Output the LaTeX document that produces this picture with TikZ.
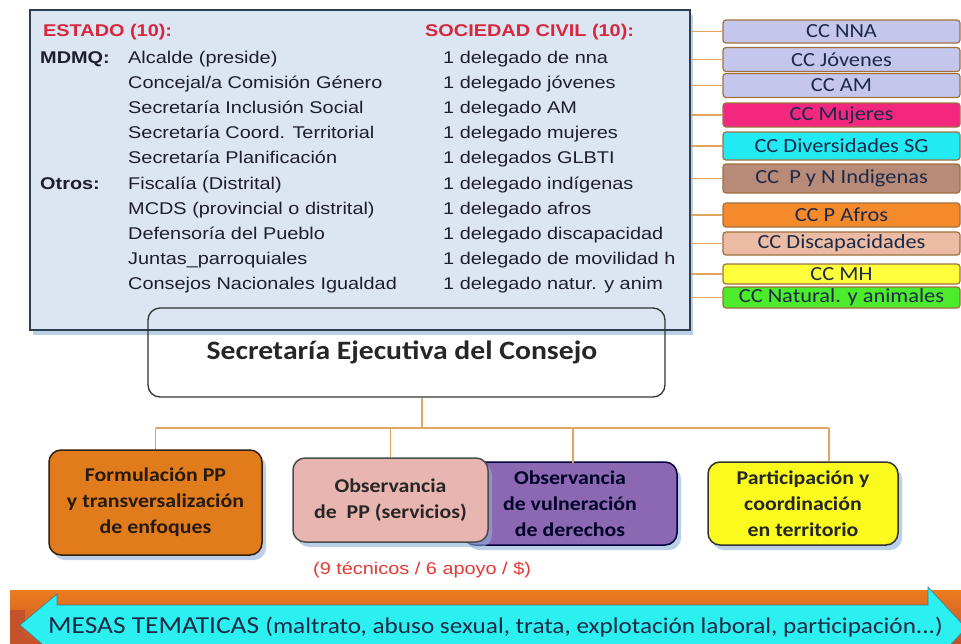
\documentclass[tikz,border=0pt]{standalone}
\usepackage{fontspec}
\usetikzlibrary{shadows}
\setmainfont{Liberation Sans}
\newfontfamily\arialw[FakeStretch=1.17]{Liberation Sans}
\newfontfamily\calib{Carlito}
\newfontfamily\calibw[FakeStretch=1.12]{Carlito}
\definecolor{mainfill}{HTML}{DCE6F2}
\definecolor{mainborder}{HTML}{2E3F52}
\definecolor{hdrred}{HTML}{D7263D}
\definecolor{txtdark}{HTML}{1E1E2E}
\definecolor{ccborder}{HTML}{A0703C}
\definecolor{cclav}{HTML}{C4C6EC}
\definecolor{ccpink}{HTML}{F2277F}
\definecolor{cccyan}{HTML}{22EAF2}
\definecolor{ccbrown}{HTML}{B88A78}
\definecolor{ccorange}{HTML}{F58A2C}
\definecolor{ccsalmon}{HTML}{EBBBA3}
\definecolor{ccyellow}{HTML}{FFFF3C}
\definecolor{ccgreen}{HTML}{4CEB2C}
\definecolor{cctext}{HTML}{1C2A48}
\definecolor{treeline}{HTML}{E2A560}
\definecolor{bonefill}{HTML}{E07C1C}
\definecolor{btwofill}{HTML}{E9B5B0}
\definecolor{bthreefill}{HTML}{8C68B2}
\definecolor{bfourfill}{HTML}{FAFA1E}
\definecolor{redtxt}{HTML}{E53935}
\definecolor{bandorange}{HTML}{EC7C1E}
\definecolor{banddark}{HTML}{C4522A}
\definecolor{arrowcyan}{HTML}{2CF0F0}
\definecolor{shadowblue}{HTML}{8FB0D8}
\begin{document}
\begin{tikzpicture}[x=1pt,y=-1pt,
  mainbox/.style={draw=mainborder, line width=1.5pt, fill=mainfill, minimum width=660pt, minimum height=320pt, inner sep=0pt,
    drop shadow={fill=shadowblue, opacity=0.6, shadow xshift=3pt, shadow yshift=-5pt}},
  lbl/.style={anchor=base west, inner sep=0pt, text=txtdark, font=\arialw\fontsize{17}{20}\selectfont},
  blbl/.style={lbl, font=\arialw\bfseries\fontsize{17}{20}\selectfont},
  hdr/.style={blbl, text=hdrred},
  ccbox/.style={draw=ccborder, line width=1.2pt, rounded corners=3pt, minimum width=237pt, inner sep=0pt,
    text=cctext, font=\calibw\fontsize{20}{20}\selectfont},
  ccline/.style={draw=treeline, line width=1.2pt},
  tree/.style={draw=treeline, line width=1.3pt},
  lowbox/.style={line width=1.5pt, rounded corners=12pt, inner sep=0pt, align=center,
    font=\calibw\bfseries\fontsize{19.5}{26}\selectfont,
    drop shadow={fill=shadowblue, opacity=0.6, shadow xshift=4pt, shadow yshift=-5pt}}
]
\useasboundingbox (0,0) rectangle (961,643);
\fill[white] (0,0) rectangle (961,643);

% main box
\node[mainbox] (main) at (360,170) {};

% headers
\node[hdr] (hestado) at (43,36) {ESTADO (10):};
\node[hdr] (hsoc) at (425,36) {SOCIEDAD CIVIL (10):};
\node[blbl] (mdmq) at (40,63) {MDMQ:};
\node[blbl] (otros) at (40,189) {Otros:};

% left list
\foreach \t [count=\i] in {Alcalde  (preside), Concejal/a  Comisión  Género, Secretaría  Inclusión  Social,
  Secretaría  Coord.  Territorial, Secretaría  Planificación, Fiscalía  (Distrital),
  MCDS  (provincial  o  distrital), Defensoría  del  Pueblo, Juntas\_parroquiales,
  Consejos  Nacionales  Igualdad}
  \node[lbl] (e\i) at (128,{63+25.2*(\i-1)}) {\t};

% right list
\foreach \t [count=\i] in {de  nna, jóvenes, AM, mujeres, {delegados  GLBTI}, indígenas, afros,
  discapacidad, de  movilidad  h, natur.  y  anim}
  \node[lbl] (s\i) at (443,{63+25.2*(\i-1)}) {1 \ifnum\i=5\relax\else delegado \fi\t};

% CC boxes
\node[ccbox, fill=cclav, minimum height=23pt] (cc1) at (841.5,31.5) {CC NNA};
\node[ccbox, fill=cclav, minimum height=24pt] (cc2) at (841.5,59.5) {CC Jóvenes};
\node[ccbox, fill=cclav, minimum height=24pt] (cc3) at (841.5,85.5) {CC AM};
\node[ccbox, fill=ccpink, minimum height=24pt] (cc4) at (841.5,115) {CC Mujeres};
\node[ccbox, fill=cccyan, minimum height=28pt] (cc5) at (841.5,146) {CC Diversidades SG};
\node[ccbox, fill=ccbrown, minimum height=29pt] (cc6) at (841.5,178.5) {CC \ P y N Indigenas};
\node[ccbox, fill=ccorange, minimum height=24pt] (cc7) at (841.5,215) {CC P Afros};
\node[ccbox, fill=ccsalmon, minimum height=23pt] (cc8) at (841.5,243.5) {CC Discapacidades};
\node[ccbox, fill=ccyellow, minimum height=20pt] (cc9) at (841.5,274) {CC MH};
\node[ccbox, fill=ccgreen, minimum height=21pt] (cc10) at (841.5,297.5) {CC Natural. y animales};

\foreach \i in {1,...,10}
  \draw[ccline] (main.east |- cc\i.west) -- (cc\i.west);

% secretaria
\node[draw=black!80, line width=1.3pt, rounded corners=12pt, minimum width=517pt, minimum height=89pt, inner sep=0pt] (sec) at (406.5,352.5) {};
\node[inner sep=0pt, text=black!85, font=\calibw\bfseries\fontsize{26.5}{28}\selectfont] (sectxt) at (402,352) {Secretaría Ejecutiva del Consejo};

% lower boxes
\node[lowbox, draw=black!75!brown, fill=bonefill, text=black!80!brown, minimum width=213pt, minimum height=105pt] (b1) at (155.5,502.5)
  {Formulación PP\\y transversalización\\de enfoques};
\node[lowbox, draw=black!75!blue, fill=bthreefill, text=black!85!blue, minimum width=214pt, minimum height=83pt] (b3) at (570,503.5)
  {Observancia\\de vulneración\\de derechos};
\node[lowbox, draw=black!70, fill=btwofill, text=black!85, minimum width=195pt, minimum height=84pt] (b2) at (390.5,500)
  {Observancia\\de \ PP (servicios)};
\node[lowbox, draw=black!80, fill=bfourfill, text=black!85, minimum width=190pt, minimum height=83pt] (b4) at (803,503.5)
  {Participación y\\coordinación\\en territorio};

% tree
\coordinate (tr) at (422,428);
\coordinate (tr4) at (829,428);
\draw[tree] (tr |- sec.south) -- (tr);
\draw[tree] (b1.north |- tr) -- (tr4);
\draw[tree] (b1.north |- tr) -- (b1.north);
\draw[tree] (b2.north |- tr) -- (b2.north);
\draw[tree] (573,428) -- (573,463);
\draw[tree] (tr4) -- (tr4 |- b4.north);

% red note
\node[anchor=base west, inner sep=0pt, text=redtxt, font=\arialw\fontsize{17}{20}\selectfont] (note) at (313,574) {(9 técnicos / 6 apoyo / \$)};

% bottom band
\shade[top color=bandorange, bottom color=banddark] (10,590) rectangle (961,643);
\fill[banddark] (10,610) rectangle (25,643);
\filldraw[fill=arrowcyan, draw=black!50!cyan, line width=0.6pt]
  (20,625) -- (57,594) -- (57,605) -- (928,605) -- (928,587) -- (966,628) -- (928,669) -- (928,650) -- (57,650) -- (57,657) -- cycle;
\node[anchor=base west, inner sep=0pt, text=cctext] (mesas) at (48,633)
  {\calibw\fontsize{24.5}{28}\selectfont MESAS TEMATICAS \fontsize{22.5}{24}\selectfont(maltrato, abuso sexual, trata, explotación laboral, participación...)};
\end{tikzpicture}
\end{document}
